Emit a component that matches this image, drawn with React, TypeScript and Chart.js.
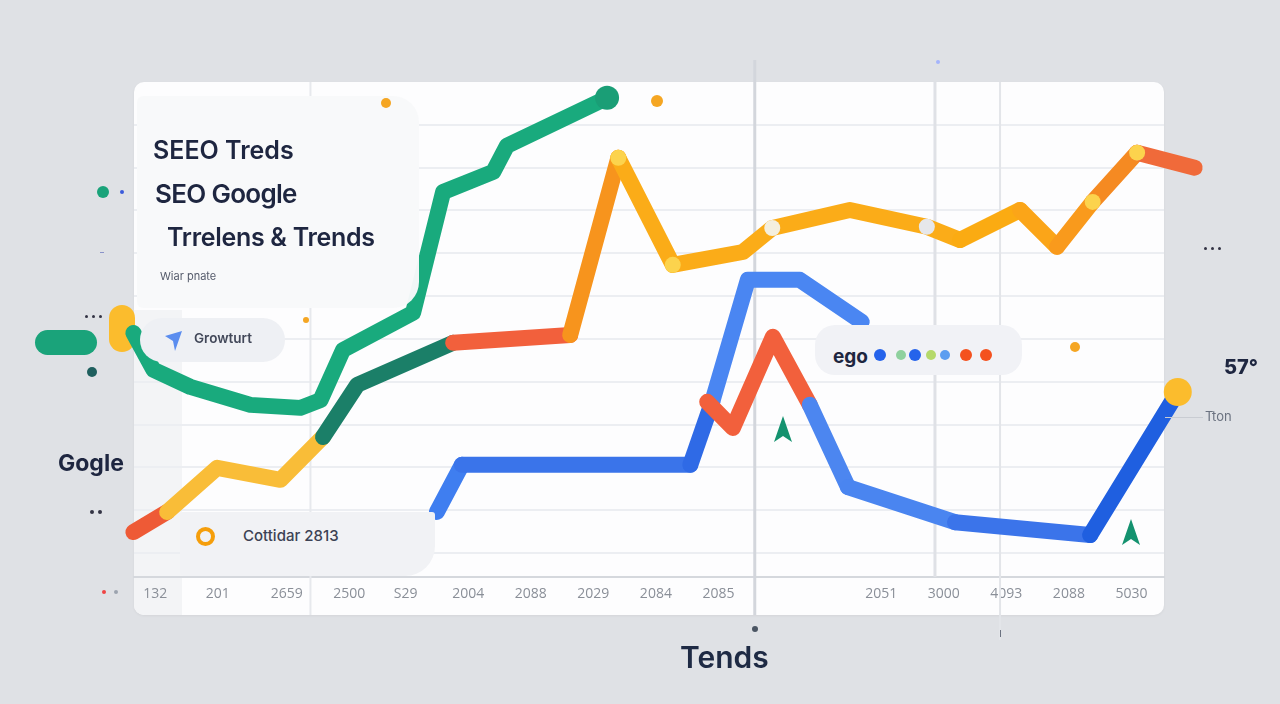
import React, { useEffect, useRef } from "react";
import { Chart, registerables } from "chart.js";

Chart.register(...registerables);

// ---------- data ----------
const xTickValues = [0, 1, 2.1, 3.1, 4, 5, 6, 7, 8, 9, 11.6, 12.6, 13.6, 14.6, 15.6];
const xTickLabels = ["132", "201", "2659", "2500", "S29", "2004", "2088", "2029", "2084", "2085", "2051", "3000", "4093", "2088", "5030"];
const yGridValues = [10, 20, 30, 40, 50, 60, 70, 80, 90, 100, 110];
const markerValues = [2.48, 9.58, 12.46, 13.5];

const greenX = [-0.35, -0.03, 0.56, 1.52, 2.32, 2.64, 3.0, 4.12, 4.6, 5.4, 5.62, 7.22];
const greenY = [61.4, 52.8, 48.8, 44.6, 43.9, 45.7, 57.4, 66.1, 94.3, 99.0, 105.1, 116.3];

const orangeX = [-0.35, 0.19, 0.99, 2.0, 2.68, 3.23, 4.76, 6.63, 7.4, 8.27, 9.39, 9.86, 11.1, 12.33, 12.86, 13.82, 14.41, 14.98, 15.69, 16.61];
const orangeY = [14.9, 19.6, 29.9, 27.1, 37.1, 49.3, 59.1, 60.9, 102.3, 77.3, 80.3, 85.9, 90.1, 86.2, 83.1, 90.1, 81.5, 92.0, 103.5, 100.0];

const blueX = [4.5, 4.9, 8.55, 8.9, 9.47, 10.3, 11.29];
const blueY = [19.6, 30.6, 30.6, 45.3, 73.8, 73.8, 64.0];

const redBlueX = [8.82, 9.23, 9.87, 10.46, 11.07, 12.78, 14.94, 16.34];
const redBlueY = [45.3, 39.2, 60.5, 44.6, 25.4, 17.2, 14.2, 47.6];

// ---------- styles ----------
const orangeSeg = ["#ee5a36", "#f9bd38", "#f9bd38", "#f9bd38", "#1b7f68", "#1b7f68", "#f2603c", "#f7941d", "#fbac18", "#fbac18", "#fbac18", "#fbac18", "#fbac18", "#fbac18", "#fbab12", "#fba518", "#f99a1c", "#f58a22", "#f06a3a"];
const orangePtR = [0, 0, 0, 0, 0, 0, 0, 0, 8, 8, 0, 8, 0, 8, 0, 0, 0, 8, 8, 13];
const orangePtC = orangeX.map((_, i) => (i === 19 ? "#e0443a" : i === 11 ? "#f4efde" : i === 13 ? "#e6e7ea" : "#fcd34d"));
const blueSeg = ["#3f7ef0", "#3a74ea", "#2f6ae6", "#4a86f2", "#4a86f2", "#4a86f2"];
const redBlueSeg = ["#f2603c", "#f2603c", "#f2603c", "#4c86f0", "#4a85f0", "#3b74ea", "#1f5fe0"];
const greenPtR = greenX.map((_, i) => (i === greenX.length - 1 ? 12 : 0));
const redBluePtR = redBlueX.map((_, i) => (i === redBlueX.length - 1 ? 14 : 0));

const pts = (xs: number[], ys: number[]) => xs.map((x, i) => ({ x, y: ys[i] }));

const markerStyles = [
  { color: "#e7e9ed", width: 2, top: 82, bottom: 615 },
  { color: "#d3d6dc", width: 3, top: 60, bottom: 615 },
  { color: "#dfe1e6", width: 3, top: 82, bottom: 577 },
  { color: "#e3e5e9", width: 2, top: 82, bottom: 640 },
];

const markerPlugin = {
  id: "markers",
  beforeDatasetsDraw(chart: any) {
    const { ctx, scales } = chart;
    markerValues.forEach((v, i) => {
      const s = markerStyles[i];
      const px = scales.x.getPixelForValue(v);
      ctx.save();
      ctx.strokeStyle = s.color;
      ctx.lineWidth = s.width;
      ctx.beginPath();
      ctx.moveTo(px, s.top);
      ctx.lineTo(px, s.bottom);
      ctx.stroke();
      ctx.restore();
    });
  },
};

const NAVY = "#1e2640";
const FONT = "Inter, 'Open Sans', sans-serif";

const abs = (o: React.CSSProperties): React.CSSProperties => ({ position: "absolute", ...o });

function Dot({ x, y, r, c }: { x: number; y: number; r: number; c: string }) {
  return <div style={abs({ left: x - r, top: y - r, width: r * 2, height: r * 2, borderRadius: "50%", background: c })} />;
}

function Txt({ x, cy, size, children, weight = 600, color = NAVY, ls = 0 }: any) {
  return (
    <div style={abs({ left: x, top: cy - size / 2 - 1, fontSize: size, lineHeight: `${size}px`, fontFamily: FONT, fontWeight: weight, color, whiteSpace: "nowrap", letterSpacing: ls })}>
      {children}
    </div>
  );
}

function Arrow({ x, y }: { x: number; y: number }) {
  return (
    <svg style={abs({ left: x - 9, top: y - 14 })} width="18" height="28" viewBox="0 0 18 28">
      <polygon points="9,0 18,26 9,20 0,26" fill="#14926f" />
    </svg>
  );
}

export default function App() {
  const ref = useRef<HTMLCanvasElement>(null);

  useEffect(() => {
    const lineBase = {
      borderWidth: 16,
      borderCapStyle: "round" as const,
      borderJoinStyle: "round" as const,
      tension: 0,
      pointBorderWidth: 0,
      clip: false as any,
      fill: false,
    };
    const chart = new Chart(ref.current!, {
      type: "line",
      data: {
        datasets: [
          {
            ...lineBase,
            label: "green",
            data: pts(greenX, greenY),
            borderColor: "#19aa7d",
            pointRadius: greenPtR,
            pointBackgroundColor: "#1a9e76",
            order: 3,
          },
          {
            ...lineBase,
            label: "orange",
            data: pts(orangeX, orangeY),
            borderColor: orangeSeg[0],
            segment: { borderColor: (c: any) => orangeSeg[c.p0DataIndex] },
            pointRadius: orangePtR,
            pointBackgroundColor: orangePtC,
            order: 2,
          },
          {
            ...lineBase,
            label: "blue",
            data: pts(blueX, blueY),
            borderColor: blueSeg[0],
            segment: { borderColor: (c: any) => blueSeg[c.p0DataIndex] },
            pointRadius: 0,
            order: 1,
          },
          {
            ...lineBase,
            label: "redblue",
            data: pts(redBlueX, redBlueY),
            borderColor: redBlueSeg[0],
            segment: { borderColor: (c: any) => redBlueSeg[c.p0DataIndex] },
            pointRadius: redBluePtR,
            pointBackgroundColor: "#fbbc2d",
            order: 0,
          },
        ] as any,
      },
      options: {
        responsive: false,
        animation: false,
        devicePixelRatio: 1,
        events: [],
        layout: { padding: { left: 134, right: 116, top: 82, bottom: 87 } },
        plugins: { legend: { display: false }, tooltip: { enabled: false } },
        scales: {
          x: {
            type: "linear",
            min: -0.34,
            max: 16.12,
            afterFit: (s: any) => {
              s.height = 40;
            },
            afterBuildTicks: (s: any) => {
              s.ticks = xTickValues.map((v) => ({ value: v }));
            },
            grid: { display: false, drawTicks: false },
            border: { display: true, color: "#d5d8dd", width: 2 },
            ticks: {
              autoSkip: false,
              maxRotation: 0,
              padding: 9,
              color: "#8a8f98",
              font: { family: "'Open Sans', sans-serif", size: 14 },
              callback: (v: any) => {
                const i = xTickValues.indexOf(Number(v));
                return i >= 0 ? xTickLabels[i] : "";
              },
            },
          },
          y: {
            type: "linear",
            min: 4.4,
            max: 120,
            afterFit: (s: any) => {
              s.width = 0;
            },
            afterBuildTicks: (s: any) => {
              s.ticks = yGridValues.map((v) => ({ value: v }));
            },
            grid: { color: "#eceef2", lineWidth: 2, drawTicks: false },
            border: { display: false },
            ticks: { display: false },
          },
        },
      },
      plugins: [markerPlugin],
    });
    return () => chart.destroy();
  }, []);

  return (
    <div style={{ position: "fixed", left: 0, top: 0, width: 1280, height: 704, background: "#dfe1e5", overflow: "hidden" }}>
      {/* card */}
      <div style={abs({ left: 134, top: 82, width: 1030, height: 533, background: "#fdfdfe", borderRadius: 10, boxShadow: "0 1px 3px rgba(0,0,0,0.05)" })} />
      <div style={abs({ left: 134, top: 310, width: 48, height: 305, background: "#f3f4f6", borderBottomLeftRadius: 10 })} />

      {/* left decorations behind */}
      <div style={abs({ left: 35, top: 330, width: 62, height: 25, borderRadius: 13, background: "#1aa37a" })} />
      <div style={abs({ left: 109, top: 305, width: 26, height: 47, borderRadius: 13, background: "#fbbc2d" })} />

      <canvas ref={ref} width={1280} height={704} style={abs({ left: 0, top: 0, width: 1280, height: 704 })} />

      {/* title box */}
      <div style={abs({ left: 137, top: 96, width: 282, height: 212, background: "rgba(248,249,250,0.97)", borderRadius: "6px 26px 26px 6px" })} />
      <Txt x={153} cy={151} size={25} ls={0}>SEEO Treds</Txt>
      <Txt x={155} cy={195} size={26} ls={-0.7}>SEO Google</Txt>
      <Txt x={167} cy={238} size={25} ls={-0.3}>Trrelens &amp; Trends</Txt>
      <Txt x={160} cy={277} size={11} weight={400} color="#555b6b">Wiar pnate</Txt>

      {/* Growturt pill */}
      <div style={abs({ left: 140, top: 318, width: 145, height: 44, borderRadius: 22, background: "#eef0f4" })} />
      <svg style={abs({ left: 165, top: 331 })} width="18" height="20" viewBox="0 0 18 20">
        <polygon points="0,5 17,0 10,20 8,10" fill="#5b8def" />
      </svg>
      <Txt x={194} cy={340} size={13.5} weight={600} color="#424859">Growturt</Txt>

      {/* Cottidar box */}
      <div style={abs({ left: 180, top: 512, width: 255, height: 64, background: "#f1f2f5", borderRadius: "3px 3px 30px 3px" })} />
      <div style={abs({ left: 196, top: 527, width: 11, height: 11, borderRadius: "50%", border: "4px solid #f59e0b" })} />
      <Txt x={243} cy={536} size={15} weight={500} color="#3c4254">Cottidar 2813</Txt>

      {/* ego pill */}
      <div style={abs({ left: 815, top: 325, width: 207, height: 50, borderRadius: 20, background: "#f1f2f6" })} />
      <Txt x={833} cy={357} size={19} weight={700}>ego</Txt>
      <Dot x={880} y={355} r={6} c="#2563eb" />
      <Dot x={901} y={355} r={5} c="#8fd19e" />
      <Dot x={915} y={355} r={6} c="#2563eb" />
      <Dot x={931} y={355} r={5} c="#b5d96a" />
      <Dot x={945} y={355} r={5} c="#5b9df0" />
      <Dot x={966} y={355} r={6} c="#f4511e" />
      <Dot x={986} y={355} r={6} c="#f4511e" />

      {/* outside labels */}
      <Txt x={58} cy={464} size={23} weight={700}>Gogle</Txt>
      <Txt x={680} cy={658} size={30} weight={600} color="#1e2a44">Tends</Txt>
      <Txt x={1224} cy={368} size={20} weight={800}>57°</Txt>
      <div style={abs({ left: 1165, top: 417, width: 38, height: 1, background: "#c9ccd2" })} />
      <Txt x={1205} cy={417} size={13} weight={400} color="#6b7280">Tton</Txt>

      {/* small dots */}
      <Dot x={103} y={192} r={6} c="#1aa37a" />
      <Dot x={122} y={192} r={2} c="#3b5bdb" />
      <Dot x={92} y={372} r={5} c="#1f5f5e" />
      <Dot x={386} y={103} r={5} c="#f5a623" />
      <Dot x={657} y={101} r={6} c="#f5a623" />
      <Dot x={306} y={320} r={3} c="#f5a623" />
      <Dot x={1075} y={347} r={5} c="#f5a623" />
      <Dot x={755} y={629} r={3} c="#4b5563" />
      <Dot x={938} y={62} r={2} c="#a5b4fc" />
      <Dot x={86} y={316} r={1.5} c="#334" />
      <Dot x={93} y={316} r={1.5} c="#334" />
      <Dot x={100} y={316} r={1.5} c="#334" />
      <Dot x={92} y={512} r={2} c="#334" />
      <Dot x={100} y={512} r={2} c="#334" />
      <Dot x={104} y={592} r={2} c="#ef4444" />
      <Dot x={116} y={592} r={2} c="#9ca3af" />
      <Dot x={1205} y={248} r={1.5} c="#334" />
      <Dot x={1212} y={248} r={1.5} c="#334" />
      <Dot x={1219} y={248} r={1.5} c="#334" />
      <div style={abs({ left: 100, top: 252, width: 4, height: 1, background: "#8a93c9" })} />
      <div style={abs({ left: 1000, top: 630, width: 1, height: 7, background: "#6b7280" })} />

      <Arrow x={783} y={430} />
      <Arrow x={1131} y={533} />
    </div>
  );
}
